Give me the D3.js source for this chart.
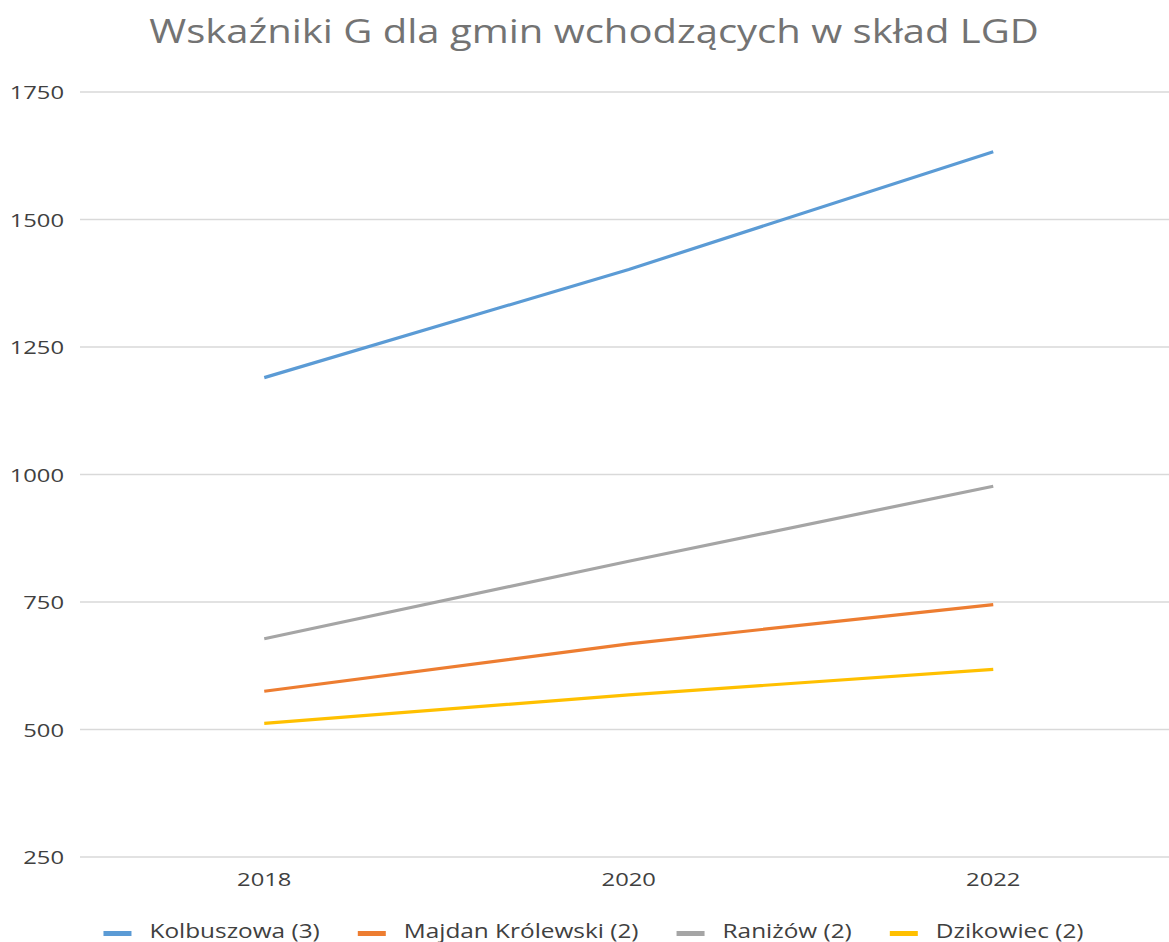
<!DOCTYPE html>
<html>
<head>
<meta charset="utf-8">
<script src="https://cdn.jsdelivr.net/npm/d3@7"></script>
<style>
  html, body { margin: 0; padding: 0; background: #fff; }
  svg { display: block; font-family: "Open Sans", sans-serif; }
</style>
</head>
<body>
<svg id="chart" width="1169" height="942"></svg>
<script>
const years = ["2018", "2020", "2022"];
const seriesNames = ["Kolbuszowa (3)", "Majdan Królewski (2)", "Raniżów (2)", "Dzikowiec (2)"];
const kolbuszowa = [1190, 1402, 1633];
const majdan = [575, 668, 745];
const ranizow = [678, 830, 977];
const dzikowiec = [512, 568, 618];
const yTicks = [250, 500, 750, 1000, 1250, 1500, 1750];
const colors = ["#5b9bd5", "#ed7d31", "#a5a5a5", "#ffc000"];

const series = [kolbuszowa, majdan, ranizow, dzikowiec].map((vals, i) => ({
  name: seriesNames[i],
  color: colors[i],
  values: vals.map((v, j) => ({ year: years[j], v })),
}));

// the whole picture is a bit wide, text glyphs are stretched sideways
const SX = 1.25;

const svg = d3.select("#chart");

const x = d3.scalePoint().domain(years).range([82, 1175.5]).padding(0.5);
const y = d3.scaleLinear().domain([250, 1750]).range([857, 92]);

function stretchedText(g, tx, ty, str, size, fill, anchor) {
  return g
    .append("text")
    .attr("transform", `translate(${tx},${ty}) scale(${SX},1)`)
    .attr("font-size", size + "px")
    .attr("fill", fill)
    .attr("text-anchor", anchor || "start")
    .text(str);
}

// title
stretchedText(svg, 594, 43, "Wskaźniki G dla gmin wchodzących w skład LGD", 32, "#737373", "middle");

// gridlines
svg
  .append("g")
  .attr("class", "grid")
  .selectAll("line")
  .data(yTicks)
  .join("line")
  .attr("x1", 80)
  .attr("x2", 1169)
  .attr("y1", (d) => y(d))
  .attr("y2", (d) => y(d))
  .attr("stroke", "#d9d9d9")
  .attr("stroke-width", 1.5);

const yl = svg.append("g").attr("class", "ylabels");
yTicks.forEach((t) => stretchedText(yl, 64, y(t) + 7, t, 19, "#404040", "end"));

const xl = svg.append("g").attr("class", "xlabels");
years.forEach((yr) => stretchedText(xl, x(yr), 886, yr, 19, "#404040", "middle"));

// lines
const line = d3
  .line()
  .x((d) => x(d.year))
  .y((d) => y(d.v));

svg
  .append("g")
  .attr("class", "lines")
  .selectAll("path")
  .data(series)
  .join("path")
  .attr("d", (d) => line(d.values))
  .attr("fill", "none")
  .attr("stroke", (d) => d.color)
  .attr("stroke-width", 3.2)
  .attr("stroke-linecap", "butt");

// legend, laid out from the measured text widths
const legend = svg.append("g").attr("class", "legend");
const items = series.map((s) => {
  const g = legend.append("g");
  g.append("rect").attr("width", 28).attr("height", 5).attr("y", -7).attr("fill", s.color);
  const t = stretchedText(g, 46, 0, s.name, 19.5, "#404040", "start");
  const w = 46 + t.node().getComputedTextLength() * SX;
  return { g, w };
});
const gap = 38;
const total = d3.sum(items, (d) => d.w) + gap * (items.length - 1);
let cx = 593.5 - total / 2;
items.forEach((it) => {
  it.g.attr("transform", `translate(${cx},938)`);
  cx += it.w + gap;
});
</script>
</body>
</html>
